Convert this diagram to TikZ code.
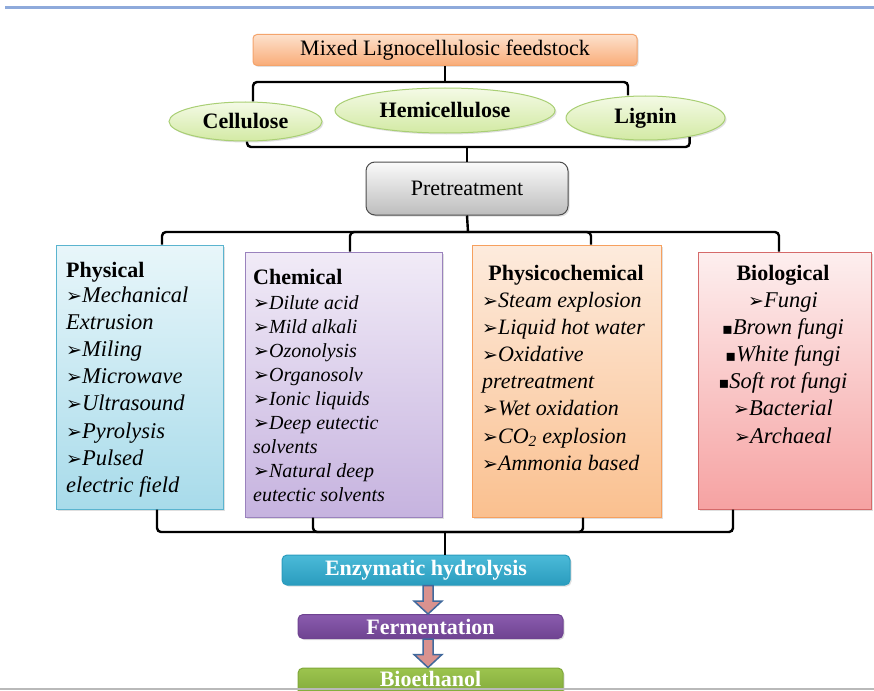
\documentclass[tikz,border=0pt]{standalone}
\usepackage{fontspec}
\setmainfont{Liberation Serif}
\newfontfamily\dvfont{DejaVu Sans}
\usetikzlibrary{calc,shapes.geometric,shadows}
\definecolor{topblue}{HTML}{8EAADB}
\definecolor{orgA}{HTML}{FDE1CC}\definecolor{orgB}{HTML}{F9AC78}\definecolor{orgD}{HTML}{F4A46C}
\definecolor{grnA}{HTML}{F4FAE6}\definecolor{grnB}{HTML}{D3EAA4}\definecolor{grnD}{HTML}{A9CF74}
\definecolor{gryA}{HTML}{FAFAFA}\definecolor{gryB}{HTML}{BDBDBD}\definecolor{gryD}{HTML}{4D4D4D}
\definecolor{cyA}{HTML}{E8F6FA}\definecolor{cyB}{HTML}{A8DBEA}\definecolor{cyD}{HTML}{5AB4CF}
\definecolor{puA}{HTML}{F1EBF7}\definecolor{puB}{HTML}{C6B3DF}\definecolor{puD}{HTML}{9A82BD}
\definecolor{pcA}{HTML}{FDEBDD}\definecolor{pcB}{HTML}{FAC08F}\definecolor{pcD}{HTML}{F6A05E}
\definecolor{biA}{HTML}{FDEFEF}\definecolor{biB}{HTML}{F6A2A2}\definecolor{biD}{HTML}{D56A6A}
\definecolor{enzA}{HTML}{4BBAD8}\definecolor{enzB}{HTML}{2A9CBE}
\definecolor{ferA}{HTML}{8A5CAE}\definecolor{ferB}{HTML}{6F4391}
\definecolor{bioA}{HTML}{9CC44E}\definecolor{bioB}{HTML}{80A83A}
\definecolor{arrF}{HTML}{D9928F}\definecolor{arrD}{HTML}{41699C}
\newcommand\myarr{{\dvfont\fontsize{19}{19}\selectfont ➢}}
\newcommand\mysq{{\dvfont\fontsize{16}{16}\selectfont ▪}}
\newcommand\blockarrow[2]{\draw[barrowst] let \p1=(#1), \p2=(#2) in
  (\x1-5pt,\y1) -- (\x1-5pt,\y2+13pt) -- (\x1-14pt,\y2+13pt) -- (\x1,\y2)
  -- (\x1+14pt,\y2+13pt) -- (\x1+5pt,\y2+13pt) -- (\x1+5pt,\y1) -- cycle;}
\tikzset{
  box/.style={draw, line width=1pt, inner sep=0pt,
    drop shadow={opacity=0.25, shadow xshift=1.5pt, shadow yshift=-1.5pt}},
  ell/.style={box, ellipse, font=\fontsize{22}{22}\selectfont\bfseries},
  brk/.style={line width=2.4pt, rounded corners=4pt},
  ttl/.style={inner sep=0pt, font=\fontsize{22}{22}\selectfont\bfseries},
  items/.style={inner sep=0pt, font=\fontsize{22.5}{27.2}\selectfont\itshape},
  proc/.style={box, rounded corners=5pt, text=white, font=\fontsize{22}{22}\selectfont\bfseries},
  barrowst/.style={draw=arrD, fill=arrF, line width=1.5pt, line join=miter}
}
\begin{document}
\begin{tikzpicture}[x=1pt,y=-1pt]
\useasboundingbox (0,0) rectangle (874,690);
\clip (0,0) rectangle (874,690);
\fill[white] (0,0) rectangle (874,690);
\draw[line width=3pt, topblue] (5,8) -- (874,8);

\node[box, rounded corners=4pt, top color=orgA, bottom color=orgB, draw=orgD,
  minimum width=384pt, minimum height=31pt, font=\fontsize{22}{22}\selectfont] (mixed) at (445,50) {Mixed Lignocellulosic feedstock};

\node[ell, top color=grnA, bottom color=grnB, draw=grnD, minimum width=153pt, minimum height=39pt] (cel) at (245.5,121.5) {Cellulose};
\node[ell, top color=grnA, bottom color=grnB, draw=grnD, minimum width=220pt, minimum height=45pt] (hem) at (445,110.5) {Hemicellulose};
\node[ell, top color=grnA, bottom color=grnB, draw=grnD, minimum width=159pt, minimum height=44pt] (lig) at (645.5,118) {Lignin};

\node[box, rounded corners=9pt, top color=gryA, bottom color=gryB, draw=gryD,
  minimum width=202pt, minimum height=53pt, font=\fontsize{22}{22}\selectfont] (pre) at (467,188.5) {Pretreatment};

\node[box, top color=cyA, bottom color=cyB, draw=cyD, minimum width=167pt, minimum height=264pt] (phy) at (139.5,377) {};
\node[box, top color=puA, bottom color=puB, draw=puD, minimum width=197pt, minimum height=265pt] (che) at (343.5,384.5) {};
\node[box, top color=pcA, bottom color=pcB, draw=pcD, minimum width=189pt, minimum height=272pt] (pc) at (566.5,381) {};
\node[box, top color=biA, bottom color=biB, draw=biD, minimum width=173pt, minimum height=257pt] (bio) at (784.5,380.5) {};

\node[ttl, anchor=base west] (phyt) at (66,277) {Physical};
\node[items, anchor=base west, align=left] (phyi) at (66,492.4) {\myarr Mechanical\\Extrusion\\\myarr Miling\\\myarr Microwave\\\myarr Ultrasound\\\myarr Pyrolysis\\\myarr Pulsed\\electric field};

\node[ttl, anchor=base west] (chet) at (253,284) {Chemical};
\node[items, anchor=base west, align=left, font=\fontsize{20}{24.1}\selectfont\itshape] (chei) at (253,501.8) {\myarr Dilute acid\\\myarr Mild alkali\\\myarr Ozonolysis\\\myarr Organosolv\\\myarr Ionic liquids\\\myarr Deep eutectic\\solvents\\\myarr Natural deep\\eutectic solvents};

\node[ttl, anchor=base] (pct) at (566,280) {Physicochemical};
\node[items, anchor=base west, align=left, font=\fontsize{22}{27.2}\selectfont\itshape] (pci) at (482,470.2) {\myarr Steam explosion\\\myarr Liquid hot water\\\myarr Oxidative\\pretreatment\\\myarr Wet oxidation\\\myarr CO\textsubscript{2} explosion\\\myarr Ammonia based};

\node[ttl, anchor=base] (biot) at (783,280) {Biological};
\node[items, anchor=base, align=center] (bioi) at (783,443) {\myarr Fungi\\\mysq Brown fungi\\\mysq White fungi\\\mysq Soft rot fungi\\\myarr Bacterial\\\myarr Archaeal};

\node[proc, top color=enzA, bottom color=enzB, draw=enzB, minimum width=288pt, minimum height=30pt] (enz) at (426,570) {Enzymatic hydrolysis};
\node[proc, top color=ferA, bottom color=ferB, draw=ferB, minimum width=265pt, minimum height=24pt] (fer) at (430.5,626.5) {Fermentation};
\node[proc, top color=bioA, bottom color=bioB, draw=bioB, minimum width=265pt, minimum height=28pt] (eth) at (430.5,682) {\raisebox{6pt}{Bioethanol}};

% brackets
\coordinate (b1) at (445,82);
\draw[brk] (mixed.south) -- (b1);
\draw[brk] ([xshift=7.5pt]cel.north) |- (b1) -| ([xshift=-17.5pt]lig.north);
\coordinate (b2) at (467,147);
\draw[brk] ([xshift=1.5pt]cel.south) |- (b2) -| (lig.-23);
\draw[brk] (b2) -- (pre.north);
\coordinate (b3) at (468,232);
\draw[brk] (pre.south) -- (b3);
\draw[brk] ([xshift=22.5pt]phy.north) |- (b3) -| ([xshift=-5.5pt]bio.north);
\draw[brk] ([xshift=6.5pt]che.north) |- (b3);
\draw[brk] ([xshift=24.5pt]pc.north) |- (b3);
\coordinate (b4) at (445,532);
\draw[brk] ([xshift=17.5pt]phy.south) |- (b4) -| ([xshift=-51.5pt]bio.south);
\draw[brk] ([xshift=-30.5pt]che.south) |- (b4);
\draw[brk] ([xshift=16.5pt]pc.south) |- (b4);
\draw[brk] (b4) -- ([xshift=19pt]enz.north);

\blockarrow{[xshift=2pt]enz.south}{[xshift=-2.5pt]fer.north}
\blockarrow{[xshift=-2.5pt]fer.south}{[xshift=-2.5pt]eth.north}

\draw[line width=2pt, gray!55] (0,688.5) -- (874,688.5);
\end{tikzpicture}
\end{document}
